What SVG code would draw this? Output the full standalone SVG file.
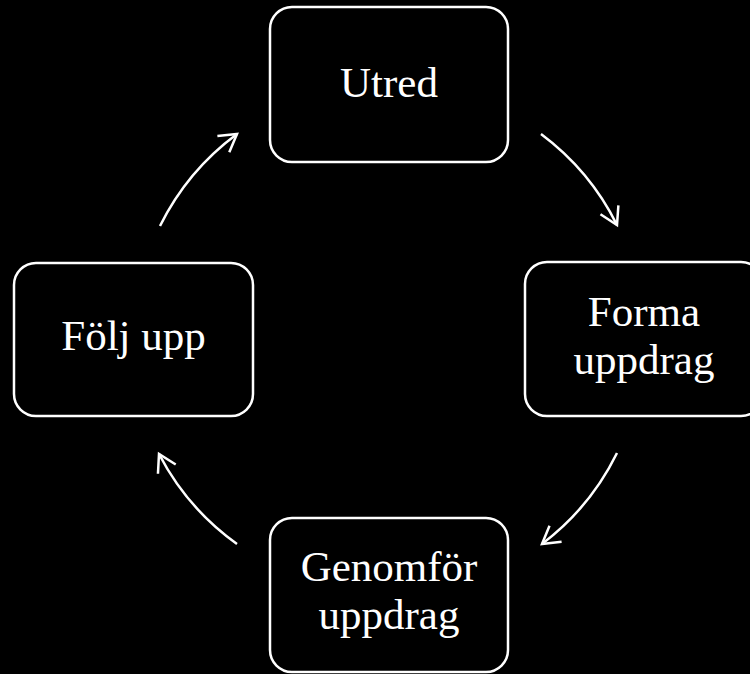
<svg xmlns="http://www.w3.org/2000/svg" width="750" height="674" viewBox="0 0 750 674">
<style>
.box{fill:#000;stroke:#fff;stroke-width:2.5}
.lbl{fill:#fff;font-family:"Liberation Serif","Times New Roman",serif;font-size:43px;text-anchor:middle}
.arc{fill:none;stroke:#fff;stroke-width:2.5}
</style>
<defs>
<marker id="ah" viewBox="-20 -12 22 24" markerWidth="22" markerHeight="24" refX="0" refY="0" orient="auto" markerUnits="userSpaceOnUse" overflow="visible">
<path d="M-17,-10 L0,0 L-17,10" fill="none" stroke="#fff" stroke-width="2.5" stroke-linejoin="miter"/>
</marker>
</defs>
<rect width="750" height="674" fill="#000"/>
<g id="connectors">
<path class="arc" d="M541,134 A255,255 0 0 1 617,225" marker-end="url(#ah)"/>
<path class="arc" d="M617,453 A255,255 0 0 1 542,544" marker-end="url(#ah)"/>
<path class="arc" d="M237,544 A255,255 0 0 1 159,454" marker-end="url(#ah)"/>
<path class="arc" d="M160,226 A255,255 0 0 1 237,134" marker-end="url(#ah)"/>
</g>
<g id="utred">
<rect class="box" x="270" y="7" width="238" height="155" rx="22"/>
<text class="lbl" x="389" y="97">Utred</text>
</g>
<g id="forma">
<rect class="box" x="525" y="262" width="238" height="154" rx="22"/>
<text class="lbl" x="644" y="326">Forma</text>
<text class="lbl" x="644" y="374">uppdrag</text>
</g>
<g id="genomfor">
<rect class="box" x="270" y="518" width="238" height="154" rx="22"/>
<text class="lbl" x="389" y="581">Genomför</text>
<text class="lbl" x="389" y="629">uppdrag</text>
</g>
<g id="folj">
<rect class="box" x="14" y="263" width="239" height="153" rx="22"/>
<text class="lbl" x="133.5" y="350">Följ upp</text>
</g>
</svg>
